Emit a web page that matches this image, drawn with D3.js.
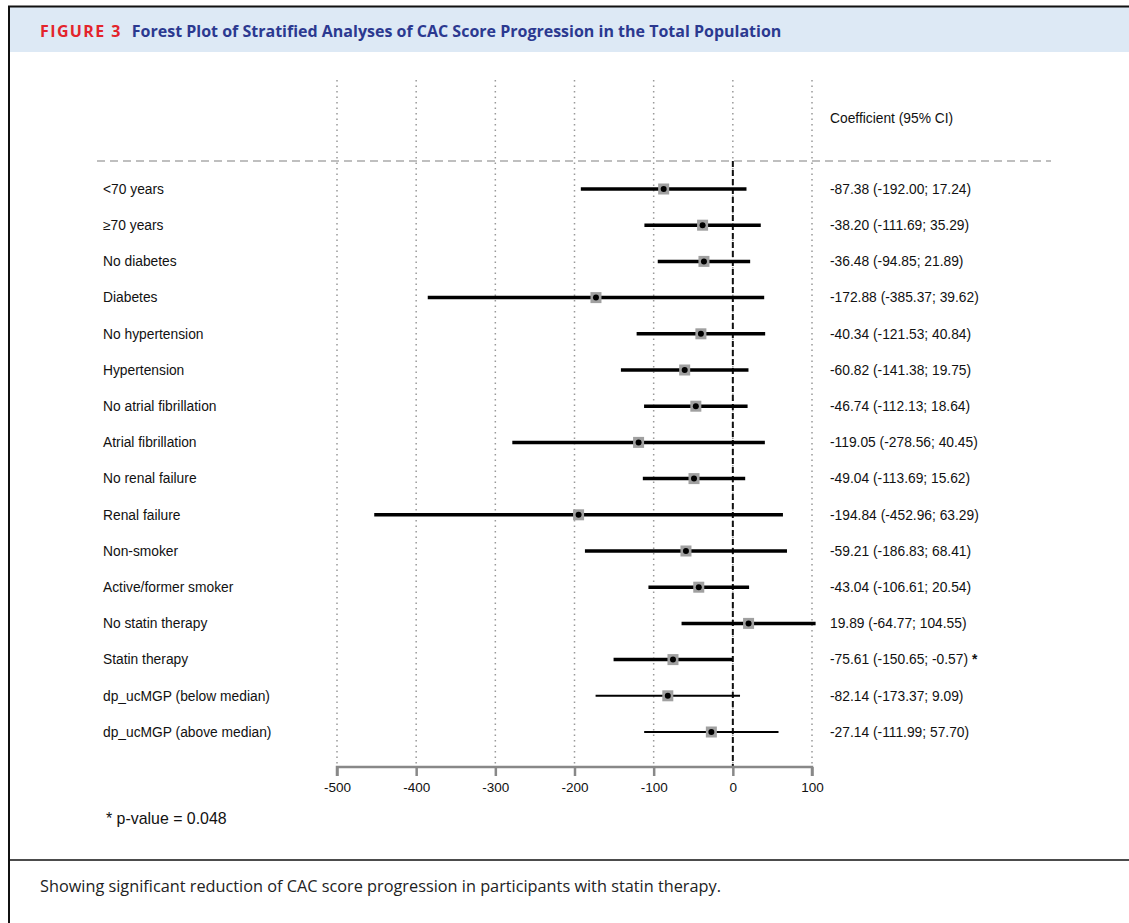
<!DOCTYPE html>
<html>
<head>
<meta charset="utf-8">
<script src="https://cdn.jsdelivr.net/npm/d3@7"></script>
<style>
  body { margin: 0; background: #fff; }
  svg { display: block; }
</style>
</head>
<body>
<script>
const width = 1129;
const height = 923;

// stratified analyses: label, coefficient, lower CI, upper CI
const labels = ['<70 years', '\u226570 years', 'No diabetes', 'Diabetes', 'No hypertension', 'Hypertension',
  'No atrial fibrillation', 'Atrial fibrillation', 'No renal failure', 'Renal failure', 'Non-smoker',
  'Active/former smoker', 'No statin therapy', 'Statin therapy', 'dp_ucMGP (below median)', 'dp_ucMGP (above median)'];
const coefs = [-87.38, -38.20, -36.48, -172.88, -40.34, -60.82, -46.74, -119.05, -49.04, -194.84, -59.21, -43.04, 19.89, -75.61, -82.14, -27.14];
const lower = [-192.00, -111.69, -94.85, -385.37, -121.53, -141.38, -112.13, -278.56, -113.69, -452.96, -186.83, -106.61, -64.77, -150.65, -173.37, -111.99];
const upper = [17.24, 35.29, 21.89, 39.62, 40.84, 19.75, 18.64, 40.45, 15.62, 63.29, 68.41, 20.54, 104.55, -0.57, 9.09, 57.70];
const flags = ['', '', '', '', '', '', '', '', '', '', '', '', '', ' *', '', ''];
const xTicks = [-500, -400, -300, -200, -100, 0, 100];

const data = labels.map((l, i) => ({
  label: l, coef: coefs[i], lo: lower[i], hi: upper[i], flag: flags[i], thin: l.startsWith('dp_')
}));

// plain hyphen minus, like the original
const fmt = v => v.toFixed(2);

const svg = d3.select('body')
  .append('svg')
  .attr('width', width)
  .attr('height', height);

// frame and header band
svg.append('rect').attr('x', 9).attr('y', 7).attr('width', width).attr('height', 45).attr('fill', '#dde9f5');
svg.append('line').attr('x1', 8).attr('x2', width).attr('y1', 6.5).attr('y2', 6.5).attr('stroke', '#111').attr('stroke-width', 2);
svg.append('line').attr('x1', 9).attr('x2', 9).attr('y1', 6).attr('y2', height).attr('stroke', '#111').attr('stroke-width', 2);
svg.append('line').attr('x1', 9).attr('x2', width).attr('y1', 860).attr('y2', 860).attr('stroke', '#111').attr('stroke-width', 1.5);

const title = svg.append('text')
  .attr('x', 40).attr('y', 37)
  .style('font-family', '"Open Sans", "Noto Sans", sans-serif')
  .style('font-weight', 700)
  .style('font-size', '16px');
title.append('tspan').attr('fill', '#e3242b').style('letter-spacing', '1.4px').text('FIGURE 3');
title.append('tspan').attr('dx', 10).attr('fill', '#2b3990').text('Forest Plot of Stratified Analyses of CAC Score Progression in the Total Population');

svg.append('text')
  .attr('x', 40).attr('y', 892)
  .attr('fill', '#222')
  .style('font-family', '"Open Sans", "Noto Sans", sans-serif')
  .style('font-size', '16.3px')
  .text('Showing significant reduction of CAC score progression in participants with statin therapy.');

// scales
const x = d3.scaleLinear().domain([-500, 100]).range([337, 812]);
const y = d3.scalePoint().domain(labels).range([189, 732]);

const plot = svg.append('g').style('font-family', '"Liberation Sans", Arial, sans-serif');

// vertical dotted gridlines
plot.selectAll('.grid')
  .data(xTicks)
  .enter()
  .append('line')
  .attr('class', 'grid')
  .attr('x1', d => x(d)).attr('x2', d => x(d))
  .attr('y1', 80).attr('y2', 767)
  .attr('stroke', '#999')
  .attr('stroke-width', 1.5)
  .attr('stroke-dasharray', '1.5,4');

// horizontal dashed separator
plot.append('line')
  .attr('x1', 97).attr('x2', 1051)
  .attr('y1', 161).attr('y2', 161)
  .attr('stroke', '#aaa')
  .attr('stroke-width', 1.5)
  .attr('stroke-dasharray', '8,5');

// zero line
plot.append('line')
  .attr('x1', x(0)).attr('x2', x(0))
  .attr('y1', 161).attr('y2', 767)
  .attr('stroke', '#111')
  .attr('stroke-width', 2)
  .attr('stroke-dasharray', '6,3');

// axis
const axis = plot.append('g')
  .attr('transform', 'translate(0,767)')
  .call(d3.axisBottom(x).tickValues(xTicks).tickSize(9).tickPadding(6).tickFormat(d => String(d)));
axis.select('.domain').attr('stroke', '#888').attr('stroke-width', 2.5)
  .attr('d', `M${x(-500)},9V0H${x(100)}V9`);
axis.selectAll('.tick line').attr('stroke', '#888').attr('stroke-width', 2.5);
axis.selectAll('.tick text')
  .attr('fill', '#111')
  .style('font-family', '"Liberation Sans", Arial, sans-serif')
  .style('font-size', '13.5px');

// CI lines
plot.selectAll('.ci')
  .data(data)
  .enter()
  .append('line')
  .attr('class', 'ci')
  .attr('x1', d => x(d.lo)).attr('x2', d => x(d.hi))
  .attr('y1', d => y(d.label)).attr('y2', d => y(d.label))
  .attr('stroke', '#000')
  .attr('stroke-width', d => d.thin ? 2 : 3.5);

// point boxes
plot.selectAll('.box')
  .data(data)
  .enter()
  .append('rect')
  .attr('class', 'box')
  .attr('x', d => x(d.coef) - 5.5).attr('y', d => y(d.label) - 5.5)
  .attr('width', 11).attr('height', 11)
  .attr('fill', '#a0a0a0');

plot.selectAll('.pt')
  .data(data)
  .enter()
  .append('circle')
  .attr('class', 'pt')
  .attr('cx', d => x(d.coef))
  .attr('cy', d => y(d.label))
  .attr('r', 3)
  .attr('fill', '#000');

// row labels
plot.selectAll('.lab')
  .data(data)
  .enter()
  .append('text')
  .attr('class', 'lab')
  .attr('x', 103).attr('y', d => y(d.label))
  .attr('dy', '0.35em')
  .attr('fill', '#111')
  .style('font-size', '13.8px')
  .text(d => d.label);

// coefficient text
plot.append('text')
  .attr('x', 830).attr('y', 118).attr('dy', '0.35em')
  .attr('fill', '#111')
  .style('font-size', '13.8px')
  .text('Coefficient (95% CI)');

const ciText = plot.selectAll('.est')
  .data(data)
  .enter()
  .append('text')
  .attr('class', 'est')
  .attr('x', 830).attr('y', d => y(d.label))
  .attr('dy', '0.35em')
  .attr('fill', '#111')
  .style('font-size', '13.8px');
ciText.append('tspan').text(d => `${fmt(d.coef)} (${fmt(d.lo)}; ${fmt(d.hi)})`);
ciText.append('tspan').style('font-weight', 700).text(d => d.flag);

plot.append('text')
  .attr('x', 106).attr('y', 818).attr('dy', '0.35em')
  .attr('fill', '#111')
  .style('font-size', '15.9px')
  .text('* p-value = 0.048');
</script>
</body>
</html>
